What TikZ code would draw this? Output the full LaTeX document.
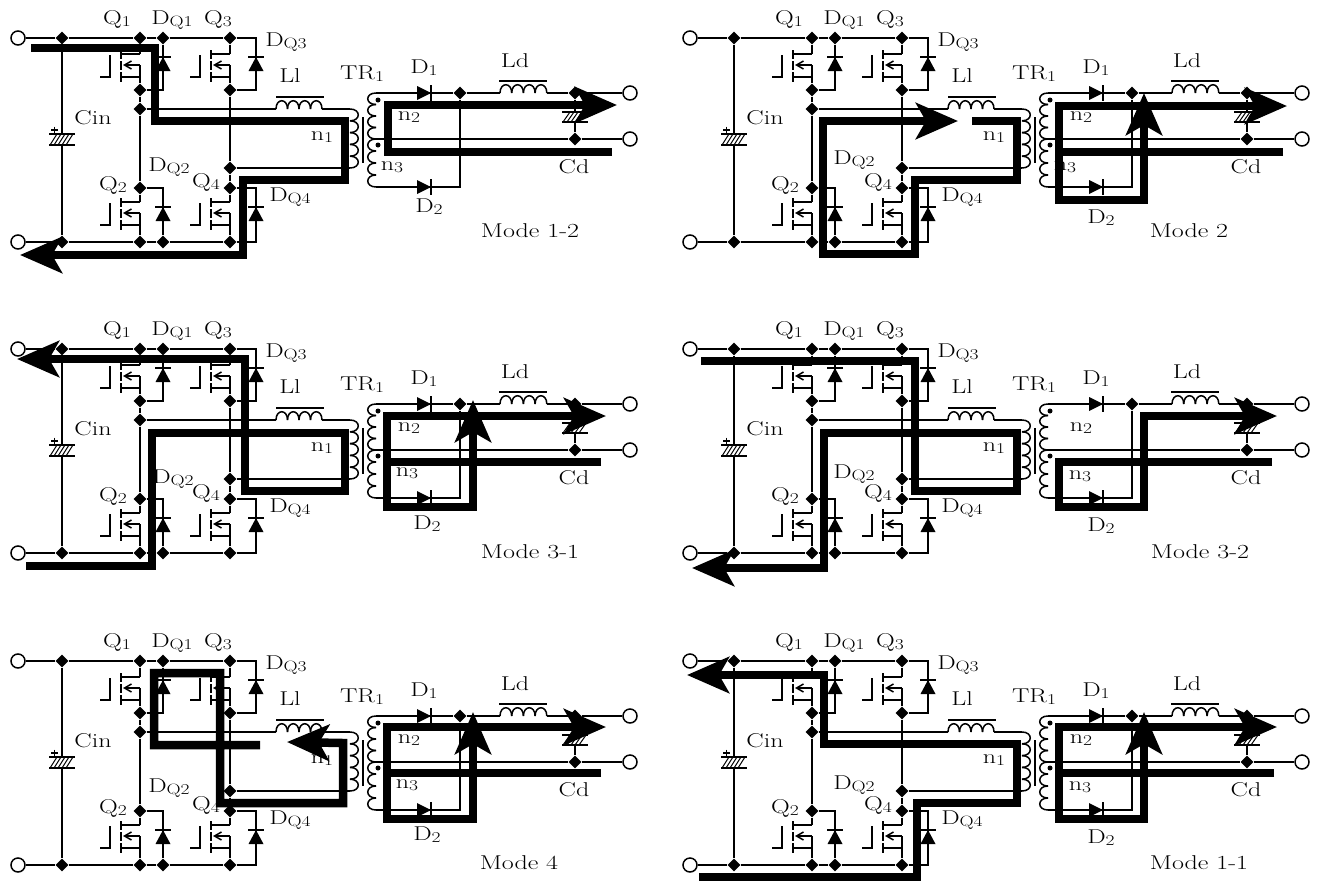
\documentclass[tikz,border=0pt]{standalone}
\usepackage{fontspec}
\setmainfont[FakeStretch=1.3]{Latin Modern Roman}
\usetikzlibrary{arrows.meta,shapes.geometric}

\newcommand{\subt}[1]{\raisebox{-0.25ex}{\fontsize{15}{15}\selectfont #1}}

\tikzset{
  wire/.style={line width=1.5pt},
  dotnode/.style={diamond,fill=black,inner sep=0pt,minimum width=13pt,minimum height=13pt},
  termnode/.style={circle,draw,line width=1.5pt,fill=white,inner sep=0pt,minimum size=14pt},
  lbl/.style={inner sep=0pt,font=\fontsize{20}{20}\selectfont},
  flowtip/.style={line width=8.5pt,-{Stealth[length=42pt,width=36pt,inset=10pt]}},
}

% x y, step dx dy, bulge bx by, turns
\newcommand{\windcoil}[7]{
  \foreach \k in {1,...,#7}
    \draw[wire] ({#1+(\k-1)*(#3)},{#2+(\k-1)*(#4)})
      .. controls ({#1+(\k-1)*(#3)+(#5)},{#2+(\k-1)*(#4)+(#6)})
      and ({#1+\k*(#3)+(#5)},{#2+\k*(#4)+(#6)})
      .. ({#1+\k*(#3)},{#2+\k*(#4)});
}
\newcommand{\mosfet}[3]{
  \coordinate (#1d) at (#2,#3);
  \coordinate (#1s) at (#2,#3+11);
  \coordinate (#1b) at (#2,#3+23);
  \draw[wire] (#1d) -- ++(-19,0);
  \draw[wire,-{Straight Barb[length=7pt,width=8pt]}] (#1s) -- ++(-17,0);
  \draw[wire] (#1s) -- (#1b) -- ++(-19,0);
  \draw[wire] (#1d) ++(-19,-4) -- ++(0,9) ++(0,2) -- ++(0,9) ++(0,2) -- ++(0,10);
  \draw[wire] (#1d) ++(-30,1) -- ++(0,22) -- ++(-10,0);
}
\newcommand{\diodeup}[2]{
  \fill (#1-7.5,#2+14) -- (#1+7.5,#2+14) -- (#1,#2) -- cycle;
  \draw[wire] (#1-8,#2) -- (#1+8,#2);
}
\newcommand{\dioderight}[2]{
  \fill (#1-14,#2-7) -- (#1-14,#2+7) -- (#1,#2) -- cycle;
  \draw[wire] (#1,#2-8) -- (#1,#2+8);
}
\newcommand{\hatchcap}[3]{
  \draw[wire] (#1-13,#2) -- (#1+13,#2);
  \draw[wire] (#1-13,#3) -- (#1+13,#3);
  \foreach \h in {-12,-8,...,4}
    \draw[line width=1pt] (#1+\h,#3) -- (#1+\h+7,#2);
}

% DQ2 label, n3 label, D2 label, mode text, mode label
\newcommand{\converter}[5]{
  \node[termnode] (inT) at (18,38) {};
  \node[termnode] (inB) at (18,242) {};
  \node[termnode] (outT) at (630,93) {};
  \node[termnode] (outM) at (630,139) {};
  \node[dotnode] (cT) at (62,38) {};
  \node[dotnode] (aT) at (140,38) {};
  \node[dotnode] (dT) at (163,38) {};
  \node[dotnode] (bT) at (230,38) {};
  \node[dotnode] (aS) at (140,90) {};
  \node[dotnode] (bS) at (230,90) {};
  \node[dotnode] (aM) at (140,109) {};
  \node[dotnode] (aD) at (140,188) {};
  \node[dotnode] (bM) at (230,168) {};
  \node[dotnode] (bD) at (230,188) {};
  \node[dotnode] (cB) at (62,242) {};
  \node[dotnode] (aB) at (140,242) {};
  \node[dotnode] (dB) at (163,242) {};
  \node[dotnode] (bB) at (230,242) {};
  \node[dotnode] (rA) at (460,93) {};
  \node[dotnode] (fT) at (575,93) {};
  \node[dotnode] (fM) at (575,139) {};
  \coordinate (dq3T) at (256,38);
  \coordinate (dq3B) at (256,90);
  \coordinate (dq4T) at (256,188);
  \coordinate (dq4B) at (256,242);
  \coordinate (dq1B) at (163,90);
  \coordinate (dq2T) at (163,188);
  \coordinate (capT) at (62,134);
  \coordinate (capB) at (62,145);
  \coordinate (ll1) at (276,109);
  \coordinate (ll2) at (322,109);
  \coordinate (pr1) at (350,109);
  \coordinate (pr2) at (350,168);
  \coordinate (sc1) at (376,93);
  \coordinate (sc2) at (376,139);
  \coordinate (sc3) at (376,187);
  \coordinate (rB) at (460,187);
  \coordinate (ld1) at (500,93);
  \coordinate (ld2) at (547,93);
  \coordinate (cdT) at (575,112);
  \coordinate (cdB) at (575,122);
  \draw[wire] (inT) -- (cT) -- (aT) -- (dT) -- (bT) -- (dq3T) -- (dq3B) -- (bS);
  \draw[wire] (inB) -- (cB) -- (aB) -- (dB) -- (bB) -- (dq4B) -- (dq4T) -- (bD);
  \draw[wire] (dT) -- (dq1B) -- (aS);
  \draw[wire] (aD) -- (dq2T) -- (dB);
  \draw[wire] (cT) -- (capT);
  \draw[wire] (capB) -- (cB);
  \mosfet{Q1}{140}{54}
  \mosfet{Q3}{230}{54}
  \mosfet{Q2}{140}{202}
  \mosfet{Q4}{230}{202}
  \draw[wire] (aT) -- (Q1d);
  \draw[wire] (Q1b) -- (aS) -- (aM) -- (aD) -- (Q2d);
  \draw[wire] (Q2b) -- (aB);
  \draw[wire] (bT) -- (Q3d);
  \draw[wire] (Q3b) -- (bS) -- (bM) -- (bD) -- (Q4d);
  \draw[wire] (Q4b) -- (bB);
  \diodeup{163}{57}
  \diodeup{256}{57}
  \diodeup{163}{207}
  \diodeup{256}{207}
  \hatchcap{62}{134}{145}
  \draw[wire] (51,130) -- (58,130);
  \draw[wire] (54.5,126.5) -- (54.5,133.5);
  \draw[wire] (aM) -- (ll1);
  \windcoil{276}{109}{11.5}{0}{0}{-11}{4}
  \draw[wire] (276,97) -- (324,97);
  \draw[wire] (ll2) -- (pr1);
  \windcoil{350}{109}{0}{11.8}{11}{0}{5}
  \draw[wire] (bM) -- (pr2);
  \draw[wire] (363,117) -- (363,163);
  \windcoil{376}{93}{0}{11.5}{-11}{0}{4}
  \windcoil{376}{139}{0}{12}{-11}{0}{4}
  \fill (378,100) circle (2.5);
  \fill (378,145) circle (2.5);
  \draw[wire] (sc1) -- (rA) -- (ld1);
  \draw[wire] (sc2) -- (fM) -- (outM);
  \draw[wire] (sc3) -- (rB) -- (rA);
  \dioderight{431}{93}
  \dioderight{431}{187}
  \windcoil{500}{93}{11.7}{0}{0}{-11}{4}
  \draw[wire] (499,81) -- (547,81);
  \draw[wire] (ld2) -- (fT) -- (outT);
  \draw[wire] (fT) -- (cdT);
  \draw[wire] (cdB) -- (fM);
  \hatchcap{575}{112}{122}
  \node[lbl] (lQ1) at (117,19) {Q\subt{1}};
  \node[lbl] (lDQ1) at (172,20) {D\subt{Q1}};
  \node[lbl] (lQ3) at (218,19) {Q\subt{3}};
  \node[lbl] (lDQ3) at (286,42) {D\subt{Q3}};
  \node[lbl] (lLl) at (290,76) {Ll};
  \node[lbl] (lTR) at (362,74) {TR\subt{1}};
  \node[lbl] (lD1) at (424,68) {D\subt{1}};
  \node[lbl] (lLd) at (515,61) {Ld};
  \node[lbl] (lCin) at (93,118) {Cin};
  \node[lbl] (ln1) at (322,137) {n\subt{1}};
  \node[lbl] (ln2) at (409,117) {n\subt{2}};
  \node[lbl] (ln3) at (#2) {n\subt{3}};
  \node[lbl] (lCd) at (574,167) {Cd};
  \node[lbl] (lD2) at (#3) {D\subt{2}};
  \node[lbl] (lDQ2) at (#1) {D\subt{Q2}};
  \node[lbl] (lQ2) at (113,185) {Q\subt{2}};
  \node[lbl] (lQ4) at (206,182) {Q\subt{4}};
  \node[lbl] (lDQ4) at (290,197) {D\subt{Q4}};
  \node[lbl] (lMode) at (#5) {#4};
}

\begin{document}
\begin{tikzpicture}[x=1pt,y=-1pt]
  \useasboundingbox[fill=white] (0,0) rectangle (1322,881);

  % mode 1-2
  \begin{scope}[name prefix=m12-]
    \converter{169,167}{392,167}{429,207}{Mode 1-2}{530,231}
    \coordinate (fa) at (31,48);
    \coordinate (ta) at (20,255);
    \coordinate (fb) at (612,152);
    \coordinate (tb) at (617,105);
    \draw[flowtip] (fa) -- (155,48) -- (155,121) -- (345,121) -- (345,180) -- (243,180) -- (243,255) -- (ta);
    \draw[flowtip] (fb) -- (388,152) -- (388,105) -- (tb);
  \end{scope}

  % mode 2
  \begin{scope}[shift={(672,0)},name prefix=m2-]
    \converter{182,160}{393,167}{429,218}{Mode 2}{517,231}
    \coordinate (fa) at (300,121);
    \coordinate (ta) at (286,121);
    \coordinate (fb) at (611,152);
    \coordinate (tb) at (615,106);
    \coordinate (fc) at (387,152);
    \coordinate (tc) at (472,93);
    \draw[flowtip] (fa) -- (345,121) -- (345,180) -- (243,180) -- (243,254) -- (151,254) -- (151,121) -- (ta);
    \draw[flowtip] (fb) -- (387,152) -- (387,106) -- (tb);
    \draw[flowtip] (fc) -- (387,200) -- (472,200) -- (tc);
  \end{scope}

  % mode 3-1
  \begin{scope}[shift={(0,311)},name prefix=m31-]
    \converter{173,168}{407,162}{427,213}{Mode 3-1}{530,241}
    \coordinate (fa) at (26,255);
    \coordinate (ta) at (17,48);
    \coordinate (fb) at (601,151);
    \coordinate (tb) at (606,105);
    \coordinate (fc) at (387,151);
    \coordinate (tc) at (473,89);
    \draw[flowtip] (fa) -- (152,255) -- (152,122) -- (345,122) -- (345,180) -- (245,180) -- (245,48) -- (ta);
    \draw[flowtip] (fb) -- (387,151) -- (387,105) -- (tb);
    \draw[flowtip] (fc) -- (387,196) -- (473,196) -- (tc);
  \end{scope}

  % mode 3-2
  \begin{scope}[shift={(672,311)},name prefix=m32-]
    \converter{182,163}{408,165}{429,215}{Mode 3-2}{528,241}
    \coordinate (fa) at (29,50);
    \coordinate (ta) at (20,257);
    \coordinate (fb) at (600,151);
    \coordinate (tb) at (605,105);
    \draw[flowtip] (fa) -- (243,50) -- (243,180) -- (345,180) -- (345,122) -- (152,122) -- (152,257) -- (ta);
    \draw[flowtip] (fb) -- (387,151) -- (387,196) -- (472,196) -- (472,105) -- (tb);
  \end{scope}

  % mode 4
  \begin{scope}[shift={(0,623)},name prefix=m4-]
    \converter{169,165}{407,162}{427,212}{Mode 4}{519,240}
    \coordinate (fa) at (260,122);
    \coordinate (ta) at (287,119);
    \coordinate (fb) at (601,150);
    \coordinate (tb) at (606,104);
    \coordinate (fc) at (387,150);
    \coordinate (tc) at (473,89);
    \draw[flowtip] (fa) -- (154,122) -- (154,50) -- (220,50) -- (220,180) -- (343,180) -- (343,120) -- (ta);
    \draw[flowtip] (fb) -- (387,150) -- (387,104) -- (tb);
    \draw[flowtip] (fc) -- (387,196) -- (473,196) -- (tc);
  \end{scope}

  % mode 1-1
  \begin{scope}[shift={(672,623)},name prefix=m11-]
    \converter{182,162}{408,164}{429,215}{Mode 1-1}{527,240}
    \coordinate (fa) at (27,254);
    \coordinate (ta) at (15,52);
    \coordinate (fb) at (602,150);
    \coordinate (tb) at (605,104);
    \coordinate (fc) at (387,150);
    \coordinate (tc) at (472,89);
    \draw[flowtip] (fa) -- (245,254) -- (245,180) -- (345,180) -- (345,121) -- (152,121) -- (152,52) -- (ta);
    \draw[flowtip] (fb) -- (387,150) -- (387,104) -- (tb);
    \draw[flowtip] (fc) -- (387,196) -- (472,196) -- (tc);
  \end{scope}
\end{tikzpicture}
\end{document}
